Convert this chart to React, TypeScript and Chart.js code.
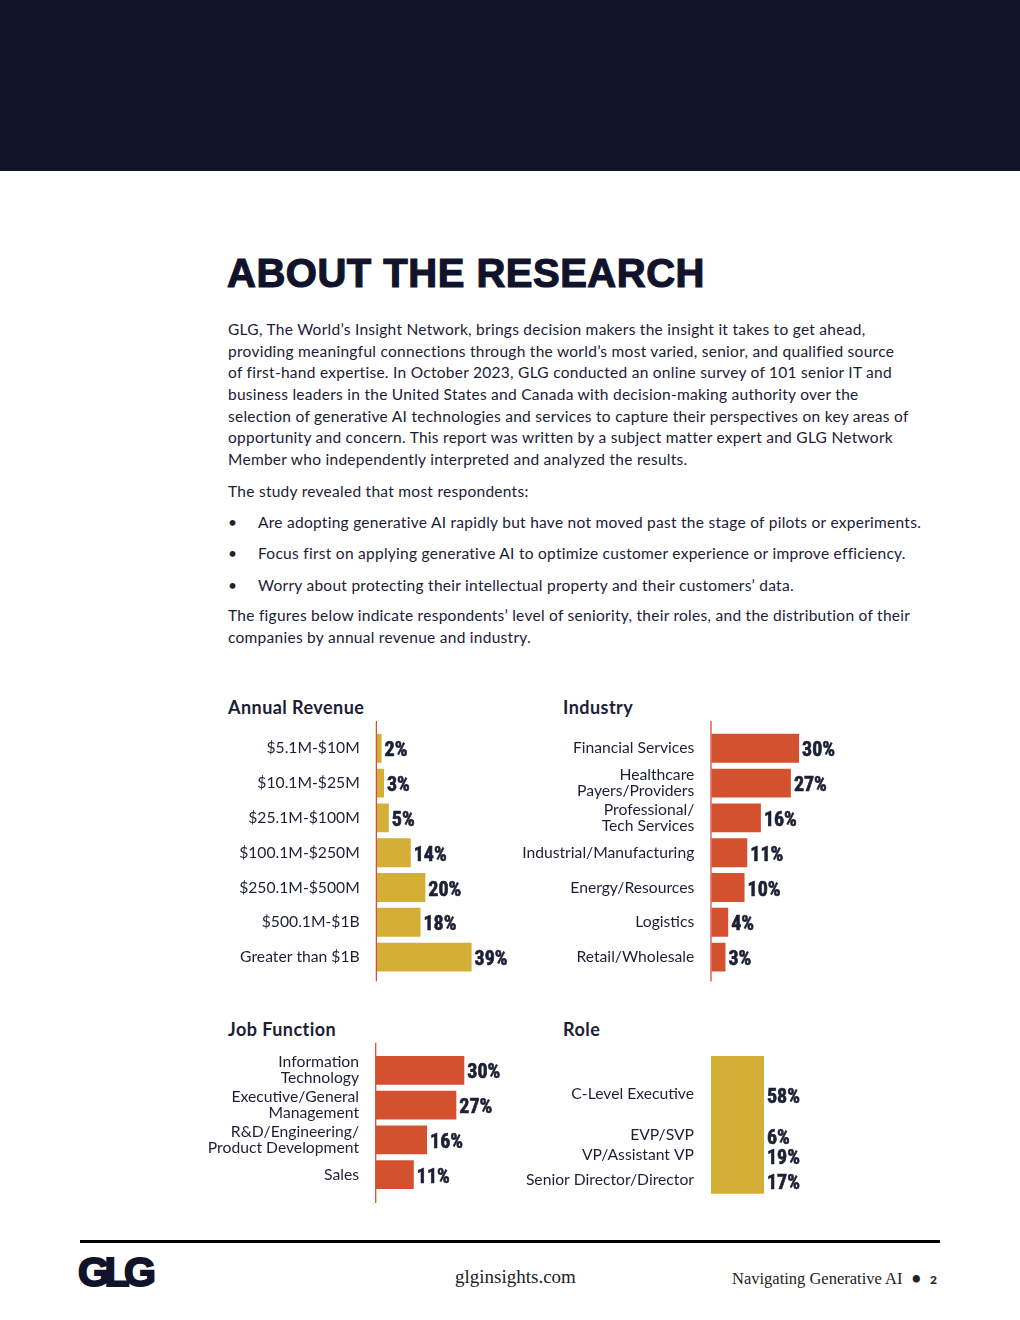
import React, { useEffect, useRef } from "react";
import { Chart, registerables } from "chart.js";

Chart.register(...registerables);

// ---------- data ----------
const revenueLabels = [
  "$5.1M-$10M",
  "$10.1M-$25M",
  "$25.1M-$100M",
  "$100.1M-$250M",
  "$250.1M-$500M",
  "$500.1M-$1B",
  "Greater than $1B",
];
const revenueValues = [2, 3, 5, 14, 20, 18, 39];

const industryLabels = [
  ["Financial Services"],
  ["Healthcare", "Payers/Providers"],
  ["Professional/", "Tech Services"],
  ["Industrial/Manufacturing"],
  ["Energy/Resources"],
  ["Logistics"],
  ["Retail/Wholesale"],
];
const industryValues = [30, 27, 16, 11, 10, 4, 3];

const jobLabels = [
  ["Information", "Technology"],
  ["Executive/General", "Management"],
  ["R&D/Engineering/", "Product Development"],
  ["Sales"],
];
const jobValues = [30, 27, 16, 11];

const roleLabels = ["C-Level Executive", "EVP/SVP", "VP/Assistant VP", "Senior Director/Director"];
const roleValues = [58, 6, 19, 17];

// ---------- styles ----------
const GOLD = "#D4AF37";
const RED = "#D3512E";
const NAVY = "#11132B";
const INK = "#1C2035";
const BODY_FONT = "Lato";
const VALUE_FONT = 'bold 20px "Liberation Sans Narrow", "Roboto Condensed", Roboto, sans-serif';

function drawValue(ctx: any, text: string, x: number, y: number) {
  ctx.font = VALUE_FONT;
  ctx.fillStyle = INK;
  ctx.strokeStyle = INK;
  ctx.lineWidth = 0.6;
  ctx.textAlign = "left";
  ctx.textBaseline = "middle";
  ctx.fillText(text, x, y);
  ctx.strokeText(text, x, y);
}

const valueLabelPlugin = {
  id: "valueLabels",
  afterDatasetsDraw(chart: any) {
    const ctx = chart.ctx;
    ctx.save();
    const meta = chart.getDatasetMeta(0);
    const data = chart.data.datasets[0].data;
    meta.data.forEach((bar: any, i: number) => {
      drawValue(ctx, data[i] + "%", bar.x + 3, bar.y + 3);
    });
    ctx.restore();
  },
};

const axisLinePlugin = {
  id: "axisLine",
  afterDatasetsDraw(chart: any, _args: any, opts: any) {
    if (!opts || !opts.show) return;
    const { ctx, chartArea } = chart;
    ctx.save();
    ctx.strokeStyle = RED;
    ctx.lineWidth = 1.3;
    ctx.beginPath();
    const x = chartArea.left - 0.3;
    ctx.moveTo(x, chartArea.top - opts.above);
    ctx.lineTo(x, chartArea.bottom + opts.below);
    ctx.stroke();
    ctx.restore();
  },
};

const roleLabelPlugin = {
  id: "roleLabels",
  afterDatasetsDraw(chart: any, _args: any, opts: any) {
    if (!opts || !opts.show) return;
    const ctx = chart.ctx;
    const pos = chart.data.datasets.map((_ds: any, i: number) => {
      const bar = chart.getDatasetMeta(i).data[0];
      const p = bar.getProps(["x", "y", "base", "width"], true);
      return { left: p.x - p.width / 2, right: p.x + p.width / 2, cy: (p.y + p.base) / 2 };
    });
    for (let i = pos.length - 2; i >= 0; i--) {
      if (pos[i + 1].cy - pos[i].cy < 20) pos[i].cy = pos[i + 1].cy - 20;
    }
    ctx.save();
    chart.data.datasets.forEach((ds: any, i: number) => {
      ctx.font = `15.7px ${BODY_FONT}`;
      ctx.fillStyle = INK;
      ctx.textAlign = "right";
      ctx.textBaseline = "middle";
      ctx.fillText(ds.label, pos[i].left - 17, pos[i].cy - 2);
      drawValue(ctx, ds.data[0] + "%", pos[i].right + 3, pos[i].cy + 2);
    });
    ctx.restore();
  },
};

type HBarProps = {
  labels: any[];
  values: number[];
  color: string;
  left: number;
  top: number;
  width: number;
  height: number;
  padTop: number;
  padBottom: number;
  axisWidth: number;
  min: number;
  max: number;
  lineAbove: number;
  lineBelow: number;
};

function HBarChart(p: HBarProps) {
  const ref = useRef<HTMLCanvasElement>(null);
  useEffect(() => {
    if (!ref.current) return;
    const chart = new Chart(ref.current, {
      type: "bar",
      data: {
        labels: p.labels,
        datasets: [
          {
            data: p.values,
            backgroundColor: p.color,
            base: p.min,
            barPercentage: 0.83,
            categoryPercentage: 1,
            borderWidth: 0,
          } as any,
        ],
      },
      options: {
        indexAxis: "y",
        animation: false,
        responsive: false,
        maintainAspectRatio: false,
        layout: { padding: { left: 0, right: 0, top: p.padTop, bottom: p.padBottom } },
        plugins: {
          legend: { display: false },
          tooltip: { enabled: false },
          title: { display: false },
          axisLine: { show: true, above: p.lineAbove, below: p.lineBelow },
        } as any,
        scales: {
          x: { display: false, min: p.min, max: p.max },
          y: {
            grid: { display: false, drawTicks: false },
            border: { display: false },
            ticks: {
              color: INK,
              font: { family: BODY_FONT, size: 15.7, lineHeight: 1.02 },
              padding: 17,
              autoSkip: false,
            },
            afterFit: (s: any) => {
              s.width = p.axisWidth;
              s.paddingTop = 0;
              s.paddingBottom = 0;
            },
          },
        },
      },
      plugins: [valueLabelPlugin, axisLinePlugin],
    });
    return () => chart.destroy();
  }, []);
  return (
    <canvas
      ref={ref}
      width={p.width}
      height={p.height}
      style={{ position: "absolute", left: p.left, top: p.top, width: p.width, height: p.height }}
    />
  );
}

function RoleChart() {
  const ref = useRef<HTMLCanvasElement>(null);
  useEffect(() => {
    if (!ref.current) return;
    const chart = new Chart(ref.current, {
      type: "bar",
      data: {
        labels: ["Role"],
        datasets: roleValues.map((v, i) => ({
          label: roleLabels[i],
          data: [v],
          backgroundColor: GOLD,
          borderWidth: 0,
          barPercentage: 1,
          categoryPercentage: 1,
        })),
      },
      options: {
        animation: false,
        responsive: false,
        maintainAspectRatio: false,
        layout: { padding: { left: 0, right: 71, top: 16, bottom: 16.3 } },
        plugins: {
          legend: { display: false },
          tooltip: { enabled: false },
          title: { display: false },
          roleLabels: { show: true },
        } as any,
        scales: {
          x: { display: false, stacked: true },
          y: {
            stacked: true,
            reverse: true,
            min: 0,
            max: 100,
            display: true,
            ticks: { display: false },
            grid: { display: false, drawTicks: false },
            border: { display: false },
            afterFit: (s: any) => {
              s.width = 206;
              s.paddingTop = 0;
              s.paddingBottom = 0;
            },
          },
        },
      },
      plugins: [roleLabelPlugin],
    });
    return () => chart.destroy();
  }, []);
  return (
    <canvas
      ref={ref}
      width={330}
      height={170}
      style={{ position: "absolute", left: 505, top: 1040, width: 330, height: 170 }}
    />
  );
}

const paragraphLines = [
  "GLG, The World\u2019s Insight Network, brings decision makers the insight it takes to get ahead,",
  "providing meaningful connections through the world\u2019s most varied, senior, and qualified source",
  "of first-hand expertise. In October 2023, GLG conducted an online survey of 101 senior IT and",
  "business leaders in the United States and Canada with decision-making authority over the",
  "selection of generative AI technologies and services to capture their perspectives on key areas of",
  "opportunity and concern. This report was written by a subject matter expert and GLG Network",
  "Member who independently interpreted and analyzed the results.",
];
const bulletLines = [
  "Are adopting generative AI rapidly but have not moved past the stage of pilots or experiments.",
  "Focus first on applying generative AI to optimize customer experience or improve efficiency.",
  "Worry about protecting their intellectual property and their customers\u2019 data.",
];
const closingLines = [
  "The figures below indicate respondents\u2019 level of seniority, their roles, and the distribution of their",
  "companies by annual revenue and industry.",
];

function TextLine({ y, x, children }: { y: number; x: number; children: any }) {
  return (
    <div
      style={{
        position: "absolute",
        left: x,
        top: y - 11,
        height: 22,
        lineHeight: "22px",
        whiteSpace: "nowrap",
        fontFamily: BODY_FONT,
        fontSize: 15.5,
        letterSpacing: 0.27,
        color: INK,
      }}
    >
      {children}
    </div>
  );
}

function ChartTitle({ x, y, children }: { x: number; y: number; children: any }) {
  return (
    <div
      style={{
        position: "absolute",
        left: x,
        top: y - 12,
        height: 24,
        lineHeight: "24px",
        whiteSpace: "nowrap",
        fontFamily: BODY_FONT,
        fontWeight: 700,
        fontSize: 18,
        letterSpacing: 0.45,
        color: INK,
      }}
    >
      {children}
    </div>
  );
}

export default function App() {
  const paraY = [329, 351, 372, 394, 416, 437, 459];
  const bulletY = [522, 553, 585];
  const closeY = [615, 637];
  return (
    <div
      style={{
        position: "absolute",
        left: 0,
        top: 0,
        width: 1020,
        height: 1320,
        background: "#ffffff",
        overflow: "hidden",
      }}
    >
      <div style={{ position: "absolute", left: 0, top: 0, width: 1020, height: 171, background: NAVY }} />
      <div
        style={{
          position: "absolute",
          left: 227,
          top: 250,
          fontFamily: '"Liberation Sans", Arial, sans-serif',
          fontWeight: 700,
          fontSize: 40,
          lineHeight: "46px",
          color: NAVY,
          whiteSpace: "nowrap",
          letterSpacing: 0.5,
          WebkitTextStroke: `1.2px ${NAVY}`,
        }}
      >
        ABOUT THE RESEARCH
      </div>
      {paragraphLines.map((t, i) => (
        <TextLine key={"p" + i} x={228} y={paraY[i]}>
          {t}
        </TextLine>
      ))}
      <TextLine x={228} y={491}>
        The study revealed that most respondents:
      </TextLine>
      {bulletLines.map((t, i) => (
        <React.Fragment key={"b" + i}>
          <TextLine x={228} y={bulletY[i]}>
            {"\u2022"}
          </TextLine>
          <TextLine x={258} y={bulletY[i]}>
            {t}
          </TextLine>
        </React.Fragment>
      ))}
      {closingLines.map((t, i) => (
        <TextLine key={"c" + i} x={228} y={closeY[i]}>
          {t}
        </TextLine>
      ))}

      <ChartTitle x={228} y={707}>Annual Revenue</ChartTitle>
      <ChartTitle x={563} y={707}>Industry</ChartTitle>
      <ChartTitle x={228} y={1029}>Job Function</ChartTitle>
      <ChartTitle x={563} y={1029}>Role</ChartTitle>

      <HBarChart
        labels={revenueLabels}
        values={revenueValues}
        color={GOLD}
        left={200}
        top={715}
        width={330}
        height={275}
        padTop={15.9}
        padBottom={15.5}
        axisWidth={176.7}
        min={0}
        max={63}
        lineAbove={10}
        lineBelow={7}
      />
      <HBarChart
        labels={industryLabels}
        values={industryValues}
        color={RED}
        left={505}
        top={715}
        width={360}
        height={275}
        padTop={15.9}
        padBottom={15.5}
        axisWidth={206.3}
        min={-2.2}
        max={54.2}
        lineAbove={10}
        lineBelow={7}
      />
      <HBarChart
        labels={jobLabels}
        values={jobValues}
        color={RED}
        left={200}
        top={1037}
        width={330}
        height={173}
        padTop={16}
        padBottom={18}
        axisWidth={176}
        min={-3.2}
        max={54.7}
        lineAbove={10.3}
        lineBelow={11}
      />
      <RoleChart />

      <div style={{ position: "absolute", left: 80, top: 1240, width: 860, height: 3, background: "#000" }} />
      <div
        style={{
          position: "absolute",
          left: 78,
          top: 1250,
          fontFamily: '"Liberation Sans", Arial, sans-serif',
          fontWeight: 700,
          fontSize: 41,
          lineHeight: "44px",
          letterSpacing: -5.5,
          color: NAVY,
          WebkitTextStroke: `2px ${NAVY}`,
          whiteSpace: "nowrap",
        }}
      >
        GLG
      </div>
      <div
        style={{
          position: "absolute",
          left: 455,
          top: 1265,
          fontFamily: '"Liberation Serif", "DejaVu Serif", serif',
          fontSize: 19,
          lineHeight: "24px",
          color: "#222",
          whiteSpace: "nowrap",
        }}
      >
        glginsights.com
      </div>
      <div
        style={{
          position: "absolute",
          left: 732,
          top: 1267,
          fontFamily: '"Liberation Serif", "DejaVu Serif", serif',
          fontSize: 16.5,
          lineHeight: "22px",
          color: "#222",
          whiteSpace: "nowrap",
        }}
      >
        Navigating Generative AI
        <span style={{ marginLeft: 9, fontFamily: "Lato", fontWeight: 700 }}>{"\u2022"}</span>
        <span style={{ marginLeft: 9, fontFamily: "Lato", fontWeight: 900, fontSize: 12 }}>2</span>
      </div>
    </div>
  );
}
